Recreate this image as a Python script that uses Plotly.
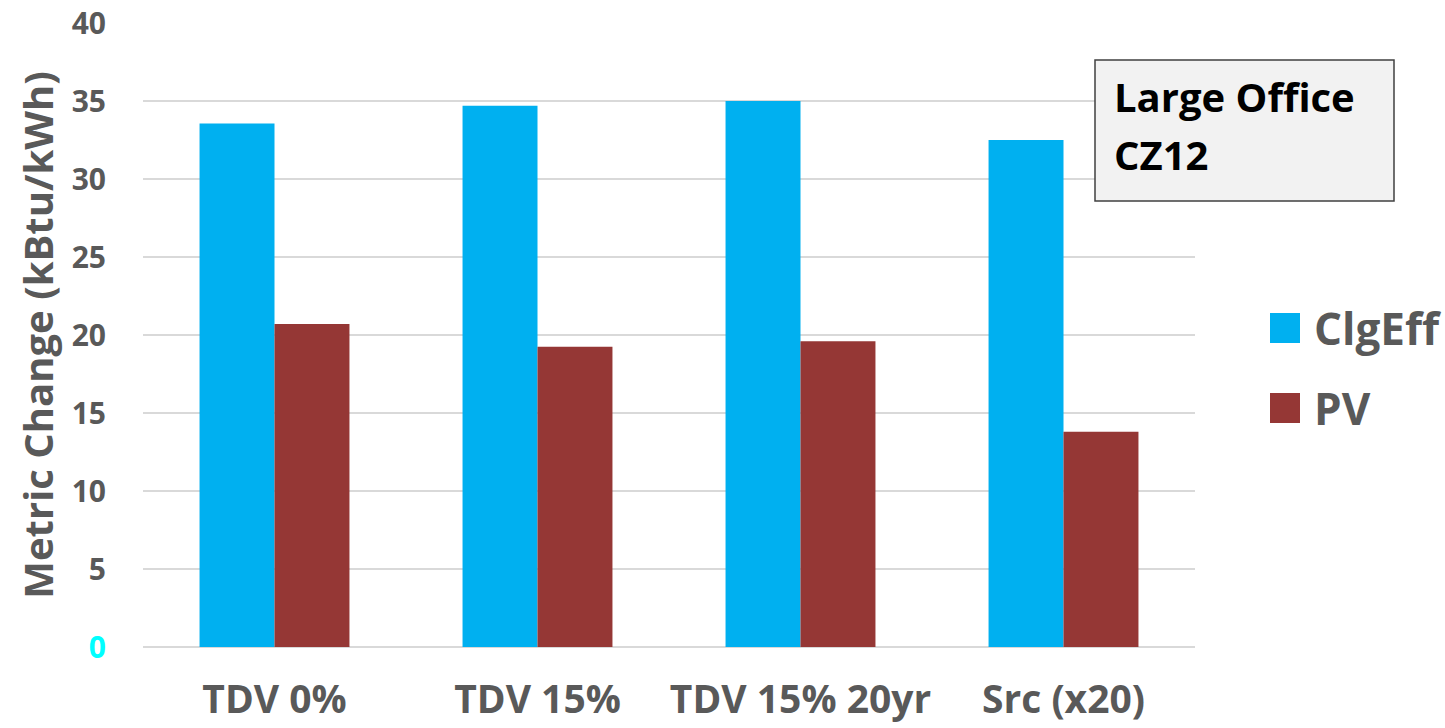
import plotly.graph_objects as go

# Scenario categories and metric change per series (kBtu/kWh)
categories = ["TDV 0%", "TDV 15%", "TDV 15% 20yr", "Src (x20)"]
clgeff_values = [33.55, 34.7, 35.0, 32.5]
pv_values = [20.7, 19.25, 19.6, 13.8]

series_names = ["ClgEff", "PV"]
series_colors = ["#00B0F0", "#953735"]

y_tick_vals = [0, 5, 10, 15, 20, 25, 30, 35, 40]
y_tick_text = ["<span style='color:#00FFFF'>0</span>"] + [str(v) for v in y_tick_vals[1:]]

FONT = "Open Sans"
GREY = "#595959"

# Plot-area geometry in pixels, used to place the box and legend in paper coords
L, R, T, B = 143, 1195, 23, 647
W, H = R - L, B - T


def px(x):
    return (x - L) / W


def py(y):
    return (B - y) / H


fig = go.Figure()
for name, vals, color in zip(series_names, [clgeff_values, pv_values], series_colors):
    fig.add_trace(go.Bar(
        x=categories, y=vals, name=name,
        marker=dict(color=color, line=dict(width=0)),
        showlegend=False,
    ))

fig.update_layout(
    width=1445, height=728,
    margin=dict(l=L, r=1445 - R, t=T, b=728 - B),
    paper_bgcolor="white", plot_bgcolor="white",
    barmode="group", bargap=0.43, bargroupgap=0,
    font=dict(family=FONT, color=GREY),
    xaxis=dict(
        showgrid=False, showline=False, zeroline=False, automargin=False,
        ticks="", ticklabelstandoff=26,
        tickfont=dict(family=FONT, size=39, color=GREY, weight="bold"),
    ),
    yaxis=dict(
        range=[0, 40], tickvals=y_tick_vals, ticktext=y_tick_text,
        showgrid=True, gridcolor="#D9D9D9", gridwidth=2,
        zeroline=True, zerolinecolor="#D9D9D9", zerolinewidth=2,
        showline=False, ticks="", ticklabelstandoff=36, automargin=False,
        tickfont=dict(family=FONT, size=30, color=GREY, weight="bold"),
    ),
)

# Rotated y-axis title
fig.add_annotation(
    text="Metric Change (kBtu/kWh)", textangle=-90,
    xref="paper", yref="paper", x=-0.101, y=0.5,
    xanchor="center", yanchor="middle", showarrow=False,
    font=dict(family=FONT, size=40, color=GREY, weight="bold"),
)

# Label box in the upper right
fig.add_shape(
    type="rect", xref="paper", yref="paper",
    x0=px(1095), x1=px(1394), y0=py(201), y1=py(60),
    fillcolor="#F2F2F2", line=dict(color="#404040", width=1.5),
)
for line_text, yc in zip(["Large Office", "CZ12"], [96, 154]):
    fig.add_annotation(
        text=line_text, xref="paper", yref="paper",
        x=px(1112), y=py(yc), xanchor="left", yanchor="middle",
        showarrow=False,
        font=dict(family=FONT, size=40, color="black", weight="bold"),
    )

# Legend: coloured squares with series names
legend_y = [328, 408]
for name, color, yc in zip(series_names, series_colors, legend_y):
    fig.add_shape(
        type="rect", xref="paper", yref="paper",
        x0=px(1270), x1=px(1300), y0=py(yc + 15), y1=py(yc - 15),
        fillcolor=color, line=dict(width=0),
    )
    fig.add_annotation(
        text=name, xref="paper", yref="paper",
        x=px(1312), y=py(yc), xanchor="left", yanchor="middle",
        showarrow=False,
        font=dict(family=FONT, size=44, color=GREY, weight="bold"),
    )

fig.write_html("out.html")
